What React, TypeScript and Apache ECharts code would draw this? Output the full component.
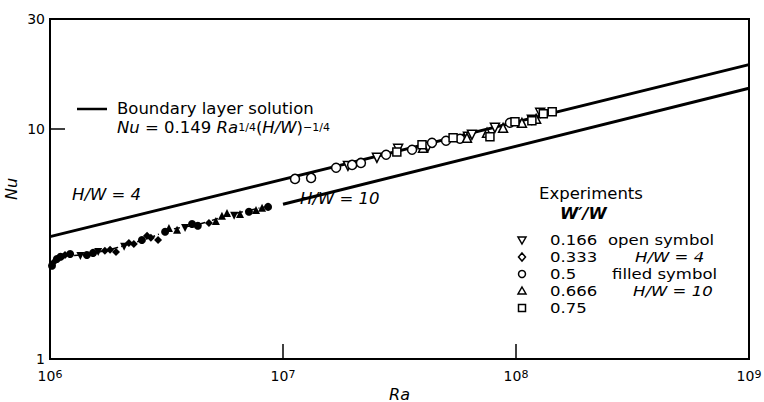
import React, { useEffect, useRef } from "react";
import * as echarts from "echarts";

// Boundary layer solution lines (endpoints)
const upperLineRa = [1e6, 1e9];
const upperLineNu = [3.4, 19.0];
const lowerLineRa = [1e7, 1e9];
const lowerLineNu = [4.7, 15.0];

// Open symbols (H/W = 4)
const openDown: [number, number][] = [
  [1.9e7, 6.9], [2.53e7, 7.48], [3.12e7, 8.19], [4.19e7, 8.35], [6.22e7, 9.23],
  [6.47e7, 9.42], [8.12e7, 10.1], [1.17e8, 10.94], [1.27e8, 11.74],
];
const openCircle: [number, number][] = [
  [1.126e7, 6.06], [1.32e7, 6.12], [1.69e7, 6.77], [1.98e7, 6.97], [2.16e7, 7.11],
  [2.77e7, 7.71], [3.58e7, 8.11], [4.36e7, 8.69], [5.01e7, 8.87], [5.75e7, 9.05],
  [9.42e7, 10.62],
];
const openUp: [number, number][] = [
  [3.99e7, 8.27], [6.16e7, 9.14], [7.51e7, 9.61], [8.8e7, 10.1], [1.06e8, 10.62], [1.22e8, 11.05],
];
const openSquare: [number, number][] = [
  [3.08e7, 7.94], [3.95e7, 8.52], [5.37e7, 9.14], [7.73e7, 9.23], [9.9e7, 10.73],
  [1.17e8, 10.83], [1.31e8, 11.62], [1.43e8, 11.86],
];

// Filled symbols (H/W = 10)
const filledCircle: [number, number][] = [
  [1.02e6, 2.54], [1.07e6, 2.72], [1.11e6, 2.78], [1.22e6, 2.86], [1.44e6, 2.83],
  [1.53e6, 2.89], [2.48e6, 3.29], [3.12e6, 3.57], [4.07e6, 3.86], [4.31e6, 3.79],
  [7.14e6, 4.36], [8.63e6, 4.58],
];
const filledDiamond: [number, number][] = [
  [1.04e6, 2.64], [1.16e6, 2.83], [1.72e6, 2.95], [1.81e6, 2.98], [1.92e6, 2.92],
  [2.18e6, 3.19], [2.29e6, 3.16], [2.61e6, 3.43], [2.71e6, 3.36], [2.91e6, 3.29],
  [4.81e6, 3.9],
];
const filledUp: [number, number][] = [
  [3.24e6, 3.71], [3.51e6, 3.64], [5.15e6, 3.98], [5.47e6, 4.19], [5.75e6, 4.31],
  [6.54e6, 4.27], [7.66e6, 4.44], [8.13e6, 4.54],
];
const filledDown: [number, number][] = [
  [1.35e6, 2.8], [1.61e6, 2.92], [2.08e6, 3.07], [3.8e6, 3.71], [6.17e6, 4.19],
];
// Dash-dot curve through the filled data
const filledCurve: [number, number][] = [
  [1.02e6, 2.54], [1.11e6, 2.78], [1.35e6, 2.83], [1.72e6, 2.95], [2.2e6, 3.16],
  [2.68e6, 3.36], [3.27e6, 3.64], [4.4e6, 3.86], [5.91e6, 4.23], [8.78e6, 4.63],
];

const legendValues = ["0.166", "0.333", "0.5", "0.666", "0.75"];
const legendShapes = ["down", "diamond", "circle", "up", "square"];

const FONT = "DejaVu Sans";
const FS = 16.5;

function legendSymbol(shape: string, cx: number, cy: number) {
  const st = { fill: "#fff", stroke: "#000", lineWidth: 1.5 };
  const r = 3.5;
  if (shape === "circle") return { type: "circle", shape: { cx, cy, r }, style: st };
  if (shape === "square") return { type: "rect", shape: { x: cx - r, y: cy - r, width: 2 * r, height: 2 * r }, style: st };
  if (shape === "diamond")
    return { type: "polygon", shape: { points: [[cx, cy - 4], [cx + 3.5, cy], [cx, cy + 4], [cx - 3.5, cy]] }, style: st };
  if (shape === "up")
    return { type: "polygon", shape: { points: [[cx, cy - 4], [cx + 4, cy + 3], [cx - 4, cy + 3]] }, style: st };
  return { type: "polygon", shape: { points: [[cx, cy + 4], [cx + 4, cy - 3], [cx - 4, cy - 3]] }, style: st };
}

function text(x: number, y: number, t: string, extra: any = {}, scaleX = 1) {
  return {
    type: "text",
    x,
    y,
    scaleX,
    style: {
      text: t,
      fontFamily: FONT,
      fontSize: FS,
      lineHeight: 15,
      fill: "#000",
      align: "left",
      verticalAlign: "middle",
      ...extra,
    },
  };
}

export default function App() {
  const ref = useRef<HTMLDivElement>(null);
  useEffect(() => {
    document.body.style.margin = "0";
    const chart = echarts.init(ref.current!, null, { renderer: "svg" });

    const open = (data: [number, number][], symbol: string, rotate = 0) => ({
      type: "scatter",
      data,
      symbol,
      symbolRotate: rotate,
      symbolSize: symbol === "rect" ? 8 : 9,
      itemStyle: { color: "#fff", borderColor: "#000", borderWidth: 1.5, opacity: 1 },
      z: 5,
    });
    const filled = (data: [number, number][], symbol: string, rotate = 0) => ({
      type: "scatter",
      data,
      symbol,
      symbolRotate: rotate,
      symbolSize: 8,
      itemStyle: { color: "#000", opacity: 1 },
      z: 5,
    });

    const legendRowsY = [240, 257, 274, 291, 308];
    const LF = { fontSize: 14.5, lineHeight: 14 };
    const LS = 1.14;
    const graphics: any[] = [
      { type: "line", shape: { x1: 77, y1: 109, x2: 107, y2: 109 }, style: { stroke: "#000", lineWidth: 2.5 } },
      text(117, 108, "Boundary layer solution"),
      {
        type: "text",
        x: 117,
        y: 129,
        style: {
          text: "{i|Nu}{n| = 0.149 }{i|Ra}{s|1/4}{n|(}{i|H/W}{n|)}{s|−1/4}",
          fontFamily: FONT,
          fill: "#000",
          align: "left",
          verticalAlign: "middle",
          rich: {
            i: { fontStyle: "italic", fontSize: FS, fontFamily: FONT, lineHeight: 14, verticalAlign: "bottom" },
            n: { fontSize: FS, fontFamily: FONT, lineHeight: 14, verticalAlign: "bottom" },
            s: { fontSize: 11, fontFamily: FONT, lineHeight: 10, verticalAlign: "top", padding: [0, 0, 8, 0] },
          },
        },
      },
      text(72, 194, "H/W = 4", { fontStyle: "italic" }),
      text(300, 198, "H/W = 10", { fontStyle: "italic" }),
      text(539, 193, "Experiments"),
      text(560, 213, "W′/W", { fontStyle: "italic", fontWeight: "bold" }),
      text(608, legendRowsY[0], "open symbol", LF, LS),
      text(635, legendRowsY[1], "H/W = 4", { fontStyle: "italic", ...LF }, LS),
      text(612, legendRowsY[2], "filled symbol", LF, LS),
      text(633, legendRowsY[3], "H/W = 10", { fontStyle: "italic", ...LF }, LS),
    ];
    legendValues.forEach((v, i) => {
      graphics.push(legendSymbol(legendShapes[i], 522, legendRowsY[i]));
      graphics.push(text(550, legendRowsY[i], v, LF, LS));
    });

    chart.setOption({
      animation: false,
      textStyle: { fontFamily: FONT, color: "#000" },
      grid: {
        left: 50,
        right: 15,
        top: 19,
        bottom: 43,
        show: true,
        borderColor: "#000",
        borderWidth: 2,
        containLabel: false,
        outerBoundsMode: "none",
      },
      xAxis: {
        type: "log",
        logBase: 10,
        min: 1e6,
        max: 1e9,
        name: "Ra",
        nameLocation: "middle",
        nameGap: 27,
        nameMoveOverlap: false,
        nameTextStyle: { fontStyle: "italic", fontSize: 16, lineHeight: 16, color: "#000", fontFamily: FONT },
        axisLine: { lineStyle: { color: "#000", width: 2 } },
        axisTick: { inside: true, length: 15, lineStyle: { color: "#000", width: 1.5 } },
        splitLine: { show: false },
        minorTick: { show: false },
        axisLabel: {
          margin: 10,
          color: "#000",
          formatter: (v: number) => "{b|10}{s|" + Math.round(Math.log10(v)) + "}",
          rich: {
            b: { fontSize: 14, fontFamily: FONT, lineHeight: 14, verticalAlign: "bottom", color: "#000" },
            s: { fontSize: 11, fontFamily: FONT, lineHeight: 11, verticalAlign: "top", padding: [0, 0, 8, 0], color: "#000" },
          },
        },
      },
      yAxis: {
        type: "log",
        logBase: 10,
        min: 1,
        max: 30,
        name: "Nu",
        nameLocation: "middle",
        nameGap: 31,
        nameMoveOverlap: false,
        nameTextStyle: { fontStyle: "italic", fontSize: 16, lineHeight: 16, color: "#000", fontFamily: FONT },
        axisLine: { lineStyle: { color: "#000", width: 2 } },
        axisTick: { inside: true, length: 15, lineStyle: { color: "#000", width: 1.5 } },
        splitLine: { show: false },
        axisLabel: { margin: 5, color: "#000", fontSize: 14, fontFamily: FONT },
      },
      graphic: graphics,
      series: [
        {
          type: "line",
          data: upperLineRa.map((r, i) => [r, upperLineNu[i]]),
          symbol: "none",
          lineStyle: { color: "#000", width: 3 },
          z: 2,
        },
        {
          type: "line",
          data: lowerLineRa.map((r, i) => [r, lowerLineNu[i]]),
          symbol: "none",
          lineStyle: { color: "#000", width: 3 },
          z: 2,
        },
        {
          type: "line",
          data: filledCurve,
          symbol: "none",
          smooth: 0.3,
          lineStyle: { color: "#000", width: 1.5, type: [6, 3, 1, 3] },
          z: 2,
        },
        open(openDown, "triangle", 180),
        open(openCircle, "circle"),
        open(openUp, "triangle"),
        open(openSquare, "rect"),
        filled(filledCircle, "circle"),
        filled(filledDiamond, "diamond"),
        filled(filledUp, "triangle"),
        filled(filledDown, "triangle", 180),
      ],
    });
    return () => chart.dispose();
  }, []);
  return <div ref={ref} style={{ width: 764, height: 402 }} />;
}
